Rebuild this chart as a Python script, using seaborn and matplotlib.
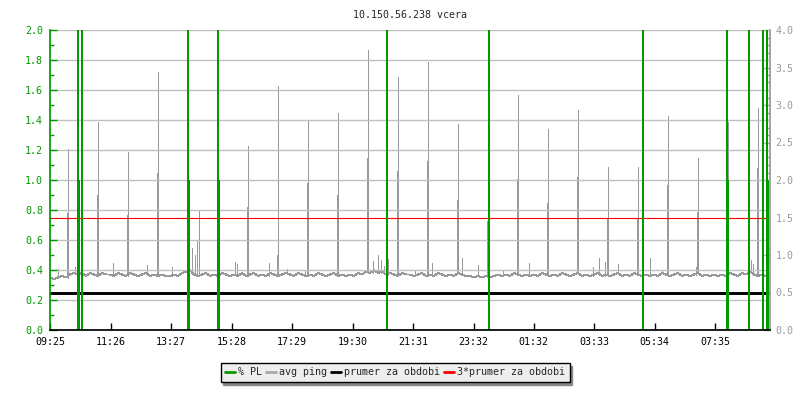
import numpy as np
import matplotlib
matplotlib.use("Agg")
import matplotlib.pyplot as plt
import seaborn as sns
from matplotlib.lines import Line2D
from matplotlib.ticker import MultipleLocator, FormatStrFormatter

# --- data ---
title = "10.150.56.238 vcera"
start = "09:25"
tick_labels = ["09:25", "11:26", "13:27", "15:28", "17:29", "19:30",
               "21:31", "23:32", "01:32", "03:33", "05:34", "07:35"]

# avg ping baseline [ms], one value every 8 minutes from 09:25
step_min = 8
ping_base = [
    0.70, 0.68, 0.70, 0.72, 0.70, 0.74, 0.76, 0.74, 0.76, 0.72, 0.76, 0.74, 0.72, 0.76, 0.74,
    0.74, 0.72, 0.76, 0.74, 0.72, 0.76, 0.74, 0.72, 0.74, 0.76, 0.72, 0.74, 0.72, 0.74, 0.72,
    0.72, 0.74, 0.72, 0.76, 0.78, 0.80, 0.74, 0.72, 0.74, 0.76, 0.72, 0.74, 0.72, 0.76, 0.74,
    0.72, 0.74, 0.72, 0.76, 0.72, 0.74, 0.76, 0.72, 0.74, 0.72, 0.76, 0.74, 0.72, 0.74, 0.76,
    0.74, 0.72, 0.76, 0.74, 0.72, 0.74, 0.72, 0.76, 0.74, 0.72, 0.74, 0.76, 0.72, 0.74, 0.72,
    0.74, 0.72, 0.76, 0.74, 0.78, 0.76, 0.80, 0.76, 0.78, 0.74, 0.76, 0.74, 0.72, 0.76, 0.74,
    0.74, 0.72, 0.74, 0.76, 0.72, 0.74, 0.72, 0.76, 0.74, 0.72, 0.74, 0.72, 0.76, 0.74, 0.72,
    0.72, 0.70, 0.72, 0.70, 0.72, 0.70, 0.72, 0.74, 0.72, 0.74, 0.72, 0.76, 0.74, 0.72, 0.74,
    0.72, 0.74, 0.72, 0.76, 0.74, 0.72, 0.74, 0.72, 0.76, 0.74, 0.72, 0.74, 0.76, 0.72, 0.74,
    0.72, 0.74, 0.76, 0.72, 0.74, 0.72, 0.74, 0.76, 0.72, 0.74, 0.72, 0.76, 0.74, 0.72, 0.74,
    0.72, 0.74, 0.72, 0.76, 0.74, 0.72, 0.74, 0.76, 0.72, 0.74, 0.72, 0.74, 0.76, 0.72, 0.74,
    0.72, 0.74, 0.72, 0.74, 0.72, 0.76, 0.74, 0.72, 0.76, 0.74, 0.78, 0.74, 0.72, 0.74, 0.72,
]

# big ping spikes: minute from start, peak [ms], shoulder next to it [ms]
spike_min = [36, 96, 156, 216, 276, 336, 396, 456, 516, 576, 636, 696,
             756, 816, 876, 936, 996, 1056, 1116, 1176, 1236, 1296, 1356, 1416]
spike_top = [2.42, 2.78, 2.38, 3.44, 2.16, 4.10, 2.46, 3.26, 2.80, 2.90, 3.74, 3.38,
             3.58, 2.74, 2.20, 3.14, 2.68, 2.94, 2.18, 2.18, 2.86, 2.30, 2.78, 2.96]
spike_shoulder = [1.56, 1.80, 1.54, 2.10, 1.44, 2.34, 1.64, 1.00, 1.96, 1.80, 2.30, 2.12,
                  2.26, 1.74, 1.46, 2.02, 1.70, 2.04, 1.50, 1.50, 1.94, 1.58, 1.70, 2.16]

# small ping bumps
bump_min = [16, 50, 126, 194, 244, 284, 290, 294, 298, 370, 374, 438, 474, 510,
            646, 656, 662, 668, 676, 730, 764, 824, 856, 906, 958, 1086, 1098,
            1110, 1136, 1200, 1224, 1292, 1402, 1406, 1414]
bump_top = [0.82, 0.84, 0.89, 0.87, 0.84, 1.10, 1.00, 1.20, 1.60, 0.91, 0.88, 0.89, 0.82, 0.80,
            0.92, 1.00, 0.94, 0.86, 0.95, 0.80, 0.89, 0.96, 0.87, 0.80, 0.89, 0.84, 0.96,
            0.91, 0.88, 0.96, 0.80, 0.84, 0.93, 0.88, 1.00]

# packet loss events [%]: minute, first sample, second sample (off scale)
pl_min = [56, 63, 276, 336, 673, 877, 1185, 1354, 1397, 1425, 1434]
pl_first = [1.0, 1.0, 1.0, 1.0, 1.0, 1.0, 1.0, 1.0, 1.0, 1.0, 1.0]
pl_second = [3.0, 3.0, 3.0, 3.0, 3.0, 3.0, 3.0, 3.0, 3.0, 3.0, 3.0]

prumer = 0.5   # ms

GREEN = "#009900"
GRAY = "#999999"
PX = 72 / 100  # one pixel in points

sns.set_theme(style="white")
plt.rcParams["font.family"] = ["DejaVu Sans Mono", "DejaVu Sans"]
FS = 7.2


def minutes(s):
    h, m = map(int, s.split(":"))
    return h * 60 + m


tick_pos = [(minutes(s) - minutes(start)) % 1440 for s in tick_labels]
base_t = np.arange(len(ping_base)) * step_min
base = np.array(ping_base)

fig = plt.figure(figsize=(8, 4), dpi=100)
ax = fig.add_axes([50 / 800, 70 / 400, 720 / 800, 300 / 400])
ax2 = ax.twinx()
ax.set_zorder(ax2.get_zorder() + 1)
ax.patch.set_visible(False)

# ping on the right axis
sns.lineplot(x=base_t, y=base, ax=ax2, color=GRAY, lw=PX, legend=False,
             antialiased=False)
foot = base[np.array(spike_min) // step_min]
ax2.vlines(np.array(spike_min) - 1, foot, spike_shoulder, color=GRAY, lw=2 * PX,
           antialiased=False)
ax2.vlines(spike_min, foot, spike_top, color=GRAY, lw=PX, antialiased=False)
bfoot = base[np.array(bump_min) // step_min]
ax2.vlines(bump_min, bfoot, bump_top, color=GRAY, lw=PX, antialiased=False)
ax2.axhline(prumer, color="black", lw=2.1)
ax2.axhline(3 * prumer, color="red", lw=0.8)

# packet loss on the left axis
ax.vlines(np.array(pl_min) + 1, 0, pl_first, color=GREEN, lw=2 * PX, antialiased=False)
ax.vlines(pl_min, 0, pl_second, color=GREEN, lw=1.5 * PX, antialiased=False)

ax.set_xlim(0, 1440)
ax.set_ylim(0, 2)
ax2.set_ylim(0, 4)
ax.set_xticks(tick_pos)
ax.set_xticklabels(tick_labels)
ax.yaxis.set_major_locator(MultipleLocator(0.2))
ax.yaxis.set_minor_locator(MultipleLocator(0.1))
ax.yaxis.set_major_formatter(FormatStrFormatter("%.1f"))
ax2.yaxis.set_major_locator(MultipleLocator(0.5))
ax2.yaxis.set_minor_locator(MultipleLocator(0.1))
ax2.yaxis.set_major_formatter(FormatStrFormatter("%.1f"))

ax.yaxis.grid(True, color="#c0c0c0", lw=1)
ax.xaxis.grid(False)
ax2.grid(False)
ax.set_axisbelow(True)

ax.tick_params(axis="y", which="major", direction="in", length=5, width=1,
               colors=GREEN, labelsize=FS, pad=5)
ax.tick_params(axis="y", which="minor", direction="in", length=3, width=1, colors=GREEN)
ax.tick_params(axis="x", direction="in", length=5, width=1, colors="black",
               labelsize=FS, pad=5, bottom=True)
ax2.tick_params(axis="y", which="major", direction="in", length=4, width=1,
                colors=GRAY, labelsize=FS, pad=4, right=True)
ax2.tick_params(axis="y", which="minor", direction="in", length=3, width=1,
                colors=GRAY, right=True)

for s in ["top", "right"]:
    ax.spines[s].set_visible(False)
ax.spines["left"].set_color(GREEN)
ax.spines["bottom"].set_color("black")
for s in ["top", "left", "bottom"]:
    ax2.spines[s].set_visible(False)
ax2.spines["right"].set_color(GRAY)
ax.set_ylabel("")
ax2.set_ylabel("")
ax.set_xlabel("")

ax.set_title(title, fontsize=FS, pad=9)

handles = [Line2D([], [], color=GREEN, lw=2),
           Line2D([], [], color="#aaaaaa", lw=2),
           Line2D([], [], color="black", lw=2),
           Line2D([], [], color="red", lw=2)]
labels = ["% PL", "avg ping", "prumer za obdobi", "3*prumer za obdobi"]
leg = fig.legend(handles, labels, loc="center", bbox_to_anchor=(0.494, 0.069),
                 ncol=4, frameon=True, fancybox=False,
                 shadow={"color": "#888888", "alpha": 1.0},
                 edgecolor="black", facecolor="#eeeeee", framealpha=1,
                 fontsize=FS, handlelength=1.0, handletextpad=0.3,
                 columnspacing=0.4, borderpad=0.45)
leg.get_frame().set_linewidth(1.0)

fig.savefig("out.png", dpi=100)
